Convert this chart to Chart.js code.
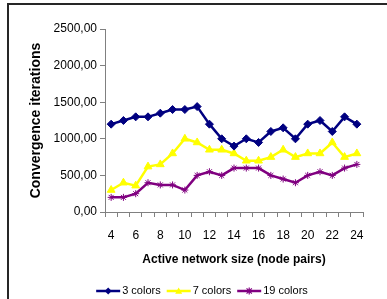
<!DOCTYPE html>
<html>
<head>
<meta charset="utf-8">
<script src="https://cdn.jsdelivr.net/npm/chart.js@4/dist/chart.umd.min.js"></script>
<style>
  html, body { margin: 0; padding: 0; background: #fff; }
  #wrap { position: relative; width: 387px; height: 299px; overflow: hidden; }
  #frame { position: absolute; left: 7px; top: 3px; width: 400px; height: 310px;
           border-left: 2px solid #262626; border-top: 2px solid #262626; pointer-events: none; }
  canvas { position: absolute; left: 0; top: 0; }
</style>
</head>
<body>
<div id="wrap">
  <canvas id="c" width="387" height="299"></canvas>
  <div id="frame"></div>
</div>
<script>
const categories = ['4','5','6','7','8','9','10','11','12','13','14','15','16','17','18','19','20','21','22','23','24'];
const colors3  = [1200,1250,1300,1300,1350,1400,1400,1440,1200,1000,900,1000,950,1100,1150,1000,1200,1250,1100,1300,1200];
const colors7  = [300,400,360,620,650,800,1000,950,850,850,800,700,700,750,850,750,800,800,950,750,800];
const colors19 = [200,200,250,400,370,370,300,500,550,500,600,600,600,500,450,400,500,550,500,600,650];
const seriesNames = ['3 colors','7 colors','19 colors'];
const yTicks = [0,500,1000,1500,2000,2500];

const FONT = "'Liberation Sans', Arial, sans-serif";
Chart.defaults.font.family = FONT;
Chart.defaults.color = '#000';

function drawMarker(ctx, style, x, y, r, color) {
  ctx.save();
  ctx.fillStyle = color; ctx.strokeStyle = color; ctx.lineWidth = 1.2;
  ctx.beginPath();
  if (style === 'rectRot') {
    ctx.moveTo(x, y - r); ctx.lineTo(x + r, y); ctx.lineTo(x, y + r); ctx.lineTo(x - r, y); ctx.closePath();
    ctx.fill();
  } else if (style === 'triangle') {
    ctx.moveTo(x, y - r); ctx.lineTo(x + r, y + r * 0.8); ctx.lineTo(x - r, y + r * 0.8); ctx.closePath();
    ctx.fill();
  } else {
    const d = r * 0.75;
    ctx.moveTo(x - d, y - d); ctx.lineTo(x + d, y + d);
    ctx.moveTo(x + d, y - d); ctx.lineTo(x - d, y + d);
    ctx.moveTo(x, y - r); ctx.lineTo(x, y + r);
    ctx.stroke();
  }
  ctx.restore();
}

const legendPlugin = {
  id: 'excelLegend',
  afterDraw(chart) {
    const ctx = chart.ctx;
    ctx.save();
    ctx.font = '11px ' + FONT;
    ctx.textBaseline = 'middle';
    const lineLen = 24, gapText = 2, gapItem = 6;
    const items = chart.data.datasets.map(ds => ({ ds, w: ctx.measureText(ds.label).width }));
    let total = 0;
    items.forEach((it, i) => { total += lineLen + gapText + it.w + (i < items.length - 1 ? gapItem : 0); });
    let x = 202 - total / 2;
    const y = 291;
    items.forEach(it => {
      ctx.strokeStyle = it.ds.borderColor; ctx.lineWidth = 2.5;
      ctx.beginPath(); ctx.moveTo(x, y); ctx.lineTo(x + lineLen, y); ctx.stroke();
      drawMarker(ctx, it.ds.pointStyle, x + lineLen / 2, y, 3.5, it.ds.borderColor);
      ctx.fillStyle = '#000';
      ctx.fillText(it.ds.label, x + lineLen + gapText, y);
      x += lineLen + gapText + it.w + gapItem;
    });
    ctx.restore();
  }
};

new Chart(document.getElementById('c'), {
  type: 'line',
  data: {
    labels: categories,
    datasets: [
      { label: seriesNames[0], data: colors3, borderColor: '#000080', backgroundColor: '#000080',
        pointStyle: 'rectRot', pointRadius: 4, pointBorderWidth: 1, borderWidth: 2.5, tension: 0 },
      { label: seriesNames[1], data: colors7, borderColor: '#FFFF00', backgroundColor: '#FFFF00',
        pointStyle: 'triangle', pointRadius: 4.5, pointBorderWidth: 1, borderWidth: 2.5, tension: 0 },
      { label: seriesNames[2], data: colors19, borderColor: '#800080', backgroundColor: '#800080',
        pointStyle: 'star', pointRadius: 3.5, pointBorderWidth: 1, borderWidth: 2.5, tension: 0 }
    ]
  },
  options: {
    responsive: false,
    devicePixelRatio: 1,
    animation: false,
    layout: { padding: { left: 0, right: 24, top: 29, bottom: 27 } },
    plugins: { legend: { display: false }, tooltip: { enabled: false } },
    scales: {
      x: {
        type: 'category',
        offset: true,
        grid: { offset: true, drawOnChartArea: false, drawTicks: true, tickLength: 5, color: '#808080' },
        border: { color: '#808080', width: 1 },
        ticks: {
          autoSkip: false, maxRotation: 0, minRotation: 0, padding: 11,
          font: { size: 12 }, color: '#000',
          callback: (v, i) => (i % 2 === 0 ? categories[i] : '')
        },
        title: { display: true, text: 'Active network size (node pairs)',
                 font: { size: 12, weight: 'bold' }, color: '#000', padding: { top: 0, bottom: 5 } },
        afterFit: s => { s.height = 60; }
      },
      y: {
        min: 0, max: 2500,
        afterBuildTicks: s => { s.ticks = yTicks.map(v => ({ value: v })); },
        grid: { drawOnChartArea: false, drawTicks: true, tickLength: 5, color: '#808080' },
        border: { color: '#808080', width: 1 },
        ticks: { padding: 3, font: { size: 12 }, color: '#000',
                 callback: v => Number(v).toFixed(2).replace('.', ',') },
        title: { display: true, text: 'Convergence iterations',
                 font: { size: 14, weight: 'bold' }, color: '#000', padding: { top: 28, bottom: 0 } },
        afterFit: s => { s.width = 105; }
      }
    }
  },
  plugins: [legendPlugin]
});
</script>
</body>
</html>
